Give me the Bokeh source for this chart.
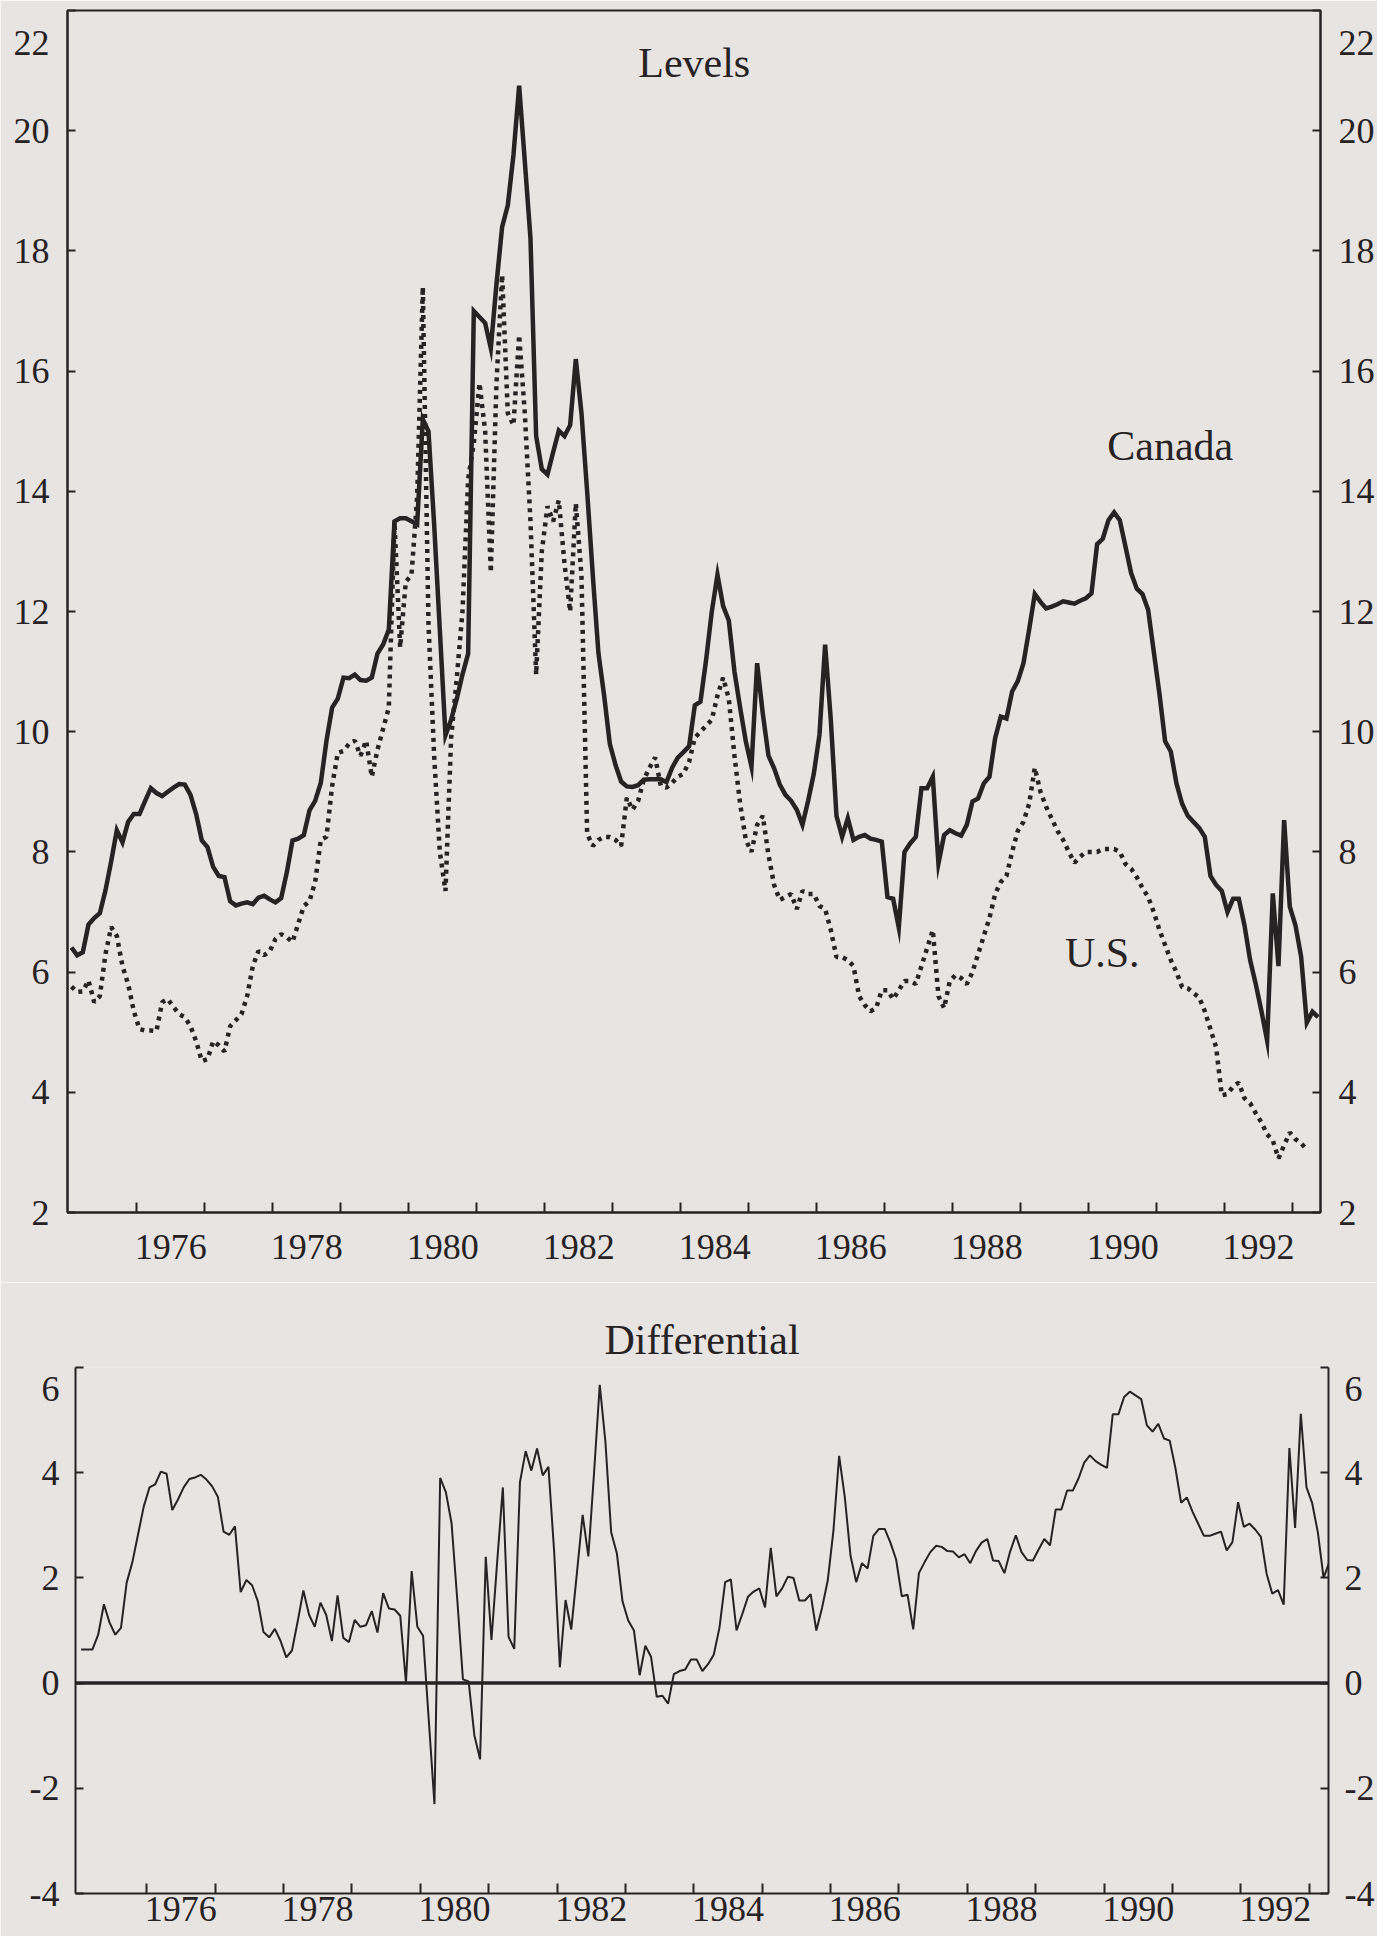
from bokeh.plotting import figure
from bokeh.layouts import column
from bokeh.models import FixedTicker, LinearAxis, Range1d, Label, Span, CustomJSTickFormatter
from bokeh.embed import file_html
from bokeh.resources import INLINE

# ---------------- data (monthly, Jan 1975 onward) ----------------
START_YEAR = 1975

canada = [
    6.41, 6.28, 6.33, 6.79, 6.90, 6.98, 7.36, 7.84, 8.36, 8.16, 8.50, 8.63,      # 1975
    8.63, 8.85, 9.06, 8.98, 8.93, 9.00, 9.07, 9.13, 9.12, 8.95, 8.63, 8.19,      # 1976
    8.08, 7.75, 7.60, 7.58, 7.18, 7.11, 7.14, 7.16, 7.13, 7.24, 7.27, 7.21,      # 1977
    7.16, 7.23, 7.66, 8.19, 8.22, 8.28, 8.69, 8.85, 9.15, 9.85, 10.40, 10.55,    # 1978
    10.90, 10.89, 10.95, 10.86, 10.85, 10.90, 11.30, 11.45, 11.70, 13.50, 13.55, 13.55,  # 1979
    13.50, 13.45, 15.20, 15.00, 13.45, 11.70, 9.94, 10.20, 10.55, 10.95, 11.30, 17.00,   # 1980
    16.90, 16.80, 16.38, 17.45, 18.40, 18.76, 19.60, 20.75, 19.49, 18.21, 14.92, 14.37,  # 1981
    14.28, 14.65, 15.01, 14.92, 15.10, 16.20, 15.30, 14.00, 12.60, 11.30, 10.60, 9.80,   # 1982
    9.45, 9.17, 9.09, 9.08, 9.11, 9.20, 9.21, 9.21, 9.21, 9.16, 9.40, 9.57,      # 1983
    9.66, 9.76, 10.44, 10.50, 11.20, 12.00, 12.61, 12.09, 11.85, 11.00, 10.40, 9.84,     # 1984
    9.42, 11.14, 10.30, 9.60, 9.39, 9.12, 8.95, 8.85, 8.70, 8.45, 8.85, 9.30,    # 1985
    9.95, 11.45, 10.20, 8.60, 8.25, 8.56, 8.20, 8.25, 8.28, 8.22, 8.20, 8.17,    # 1986
    7.25, 7.22, 6.74, 8.00, 8.14, 8.25, 9.06, 9.06, 9.25, 7.81, 8.28, 8.36,      # 1987
    8.31, 8.27, 8.45, 8.84, 8.89, 9.14, 9.25, 9.89, 10.25, 10.22, 10.67, 10.84,  # 1988
    11.14, 11.70, 12.29, 12.16, 12.05, 12.08, 12.12, 12.17, 12.15, 12.13, 12.18, 12.22,  # 1989
    12.30, 13.12, 13.21, 13.52, 13.65, 13.52, 13.08, 12.64, 12.38, 12.29, 12.03, 11.33,  # 1990
    10.63, 9.84, 9.67, 9.14, 8.80, 8.60, 8.50, 8.40, 8.25, 7.60, 7.45, 7.35,     # 1991
    7.00, 7.22, 7.22, 6.78, 6.20, 5.80, 5.35, 4.86, 7.31, 6.10, 8.53, 7.09,      # 1992
    6.78, 6.26, 5.16, 5.34, 5.25,                                                # 1993
]

us = [
    5.76, 5.67, 5.68, 5.86, 5.50, 5.60, 6.30, 6.75, 6.60, 6.10, 5.80, 5.35,      # 1975
    5.05, 5.03, 5.03, 5.02, 5.50, 5.55, 5.42, 5.30, 5.25, 5.10, 4.85, 4.52,      # 1976
    4.55, 4.85, 4.78, 4.68, 5.10, 5.20, 5.30, 5.60, 6.10, 6.35, 6.28, 6.35,      # 1977
    6.55, 6.63, 6.58, 6.50, 6.80, 7.10, 7.18, 7.50, 8.20, 8.25, 9.10, 9.65,      # 1978
    9.68, 9.80, 9.85, 9.60, 9.85, 9.25, 9.70, 10.05, 10.40, 13.50, 11.40, 12.50, # 1979
    12.60, 13.90, 17.40, 11.80, 9.60, 8.00, 7.35, 9.90, 10.90, 12.00, 14.20, 14.80,      # 1980
    15.80, 15.00, 12.65, 15.80, 17.60, 15.30, 15.10, 16.60, 15.30, 13.50, 10.95, 13.00,  # 1981
    13.75, 13.50, 13.85, 12.80, 12.00, 13.80, 12.60, 8.30, 8.10, 8.20, 8.25, 8.25,       # 1982
    8.20, 8.10, 8.90, 8.70, 8.85, 9.20, 9.40, 9.57, 9.10, 9.07, 9.15, 9.25,      # 1983
    9.30, 9.50, 9.90, 10.00, 10.10, 10.20, 10.60, 10.90, 10.55, 9.60, 8.80, 8.20,        # 1984
    8.00, 8.45, 8.60, 7.95, 7.45, 7.20, 7.25, 7.30, 7.05, 7.35, 7.30, 7.30,      # 1985
    7.10, 7.05, 6.70, 6.25, 6.25, 6.20, 6.10, 5.60, 5.45, 5.35, 5.40, 5.70,      # 1986
    5.70, 5.55, 5.70, 5.85, 5.85, 5.80, 6.10, 6.40, 6.70, 5.60, 5.40, 5.85,      # 1987
    5.95, 5.90, 5.80, 6.00, 6.30, 6.60, 6.90, 7.30, 7.50, 7.60, 8.00, 8.35,      # 1988
    8.50, 8.80, 9.40, 9.00, 8.75, 8.55, 8.35, 8.20, 8.00, 7.82, 7.92, 8.00,      # 1989
    8.00, 8.00, 8.05, 8.05, 8.05, 8.00, 7.80, 7.72, 7.58, 7.40, 7.25, 7.00,      # 1990
    6.70, 6.45, 6.20, 6.00, 5.75, 5.73, 5.65, 5.58, 5.35, 5.05, 4.75, 3.95,      # 1991
    3.97, 4.10, 4.16, 3.90, 3.82, 3.65, 3.50, 3.30, 3.20, 2.90, 3.12, 3.33,      # 1992
    3.22, 3.15, 3.05,                                                            # 1993
]

differential = [
    0.64, 0.64, 0.64, 0.92, 1.50, 1.15, 0.92, 1.05, 1.91, 2.30, 2.83, 3.36,      # 1975
    3.72, 3.78, 4.02, 3.98, 3.29, 3.49, 3.72, 3.88, 3.91, 3.96, 3.87, 3.74,      # 1976
    3.54, 2.88, 2.82, 2.98, 1.73, 1.96, 1.86, 1.56, 0.97, 0.87, 1.03, 0.80,      # 1977
    0.49, 0.62, 1.17, 1.76, 1.30, 1.07, 1.53, 1.30, 0.80, 1.67, 0.86, 0.78,      # 1978
    1.20, 1.07, 1.10, 1.37, 0.96, 1.71, 1.42, 1.40, 1.28, 0.01, 2.13, 1.07,      # 1979
    0.90, -0.70, -2.30, 3.90, 3.63, 3.04, 1.59, 0.07, 0.03, -0.99, -1.45, 2.40,  # 1980
    0.82, 2.30, 3.72, 0.88, 0.65, 3.82, 4.41, 4.04, 4.46, 3.95, 4.11, 2.50,      # 1981
    0.30, 1.58, 1.02, 2.10, 3.20, 2.41, 4.00, 5.67, 4.58, 2.87, 2.47, 1.55,      # 1982
    1.19, 1.00, 0.15, 0.71, 0.50, -0.26, -0.24, -0.39, 0.17, 0.23, 0.26, 0.45,   # 1983
    0.45, 0.23, 0.36, 0.54, 1.05, 1.92, 1.97, 1.00, 1.31, 1.64, 1.74, 1.80,      # 1984
    1.44, 2.57, 1.65, 1.80, 2.02, 2.00, 1.57, 1.57, 1.69, 1.00, 1.43, 1.95,      # 1985
    2.90, 4.32, 3.53, 2.42, 1.92, 2.28, 2.18, 2.80, 2.93, 2.93, 2.67, 2.35,      # 1986
    1.65, 1.68, 1.02, 2.09, 2.30, 2.49, 2.61, 2.59, 2.51, 2.50, 2.39, 2.45,      # 1987
    2.28, 2.51, 2.67, 2.74, 2.33, 2.32, 2.09, 2.50, 2.81, 2.49, 2.34, 2.33,      # 1988
    2.54, 2.74, 2.62, 3.30, 3.30, 3.66, 3.66, 3.89, 4.19, 4.33, 4.22, 4.15,      # 1989
    4.09, 5.11, 5.11, 5.44, 5.54, 5.47, 5.40, 4.90, 4.78, 4.93, 4.65, 4.61,      # 1990
    4.09, 3.43, 3.53, 3.26, 3.03, 2.80, 2.80, 2.84, 2.88, 2.52, 2.68, 3.44,      # 1991
    2.97, 3.03, 2.92, 2.78, 2.08, 1.70, 1.77, 1.49, 4.47, 2.95, 5.12, 3.72,      # 1992
    3.42, 2.86, 2.00, 2.30,                                                      # 1993
]

year_boundaries = list(range(1976, 1994))
labelled_years = list(range(1976, 1993, 2))
levels_ticks = [2, 4, 6, 8, 10, 12, 14, 16, 18, 20, 22]
diff_ticks = [-4, -2, 0, 2, 4, 6]


def months(n):
    return [START_YEAR + (k + 0.5) / 12 for k in range(n)]


# ---------------- styling ----------------
FONT = "Liberation Serif"
INK = "#272223"
PAPER = "#e8e4e2"
TICK_FS = "36px"
TEXT_FS = "42px"


def make_x_axis(standoff):
    ax = LinearAxis(
        ticker=FixedTicker(ticks=[y + 0.5 for y in labelled_years], minor_ticks=year_boundaries),
        formatter=CustomJSTickFormatter(code="return String(Math.floor(tick));"),
    )
    ax.major_tick_in = 0
    ax.major_tick_out = 0
    ax.minor_tick_in = 10
    ax.minor_tick_out = 0
    ax.minor_tick_line_color = INK
    ax.minor_tick_line_width = 2
    ax.axis_line_color = INK
    ax.axis_line_width = 2
    ax.major_label_text_font = FONT
    ax.major_label_text_font_size = TICK_FS
    ax.major_label_text_color = INK
    ax.major_label_text_line_height = 1.0
    ax.major_label_standoff = standoff
    return ax


def make_y_axis(ticks, standoff, top_drop):
    top = max(ticks)
    # the label of the top tick sits a little below its tick, as in the original
    code = "return (tick == %d) ? '\\n' + String(tick) : String(tick);" % top
    ax = LinearAxis(ticker=FixedTicker(ticks=ticks), formatter=CustomJSTickFormatter(code=code))
    ax.major_tick_in = 8
    ax.major_tick_out = 0
    ax.major_tick_line_color = INK
    ax.major_tick_line_width = 2
    ax.minor_tick_line_color = None
    ax.axis_line_color = INK
    ax.axis_line_width = 2
    ax.major_label_text_font = FONT
    ax.major_label_text_font_size = TICK_FS
    ax.major_label_text_color = INK
    ax.major_label_text_line_height = top_drop
    ax.major_label_standoff = standoff
    return ax


# ---------------- top panel: levels ----------------
X1 = (1974.983, 1993.41)
p1 = figure(width=1377, height=1282, x_range=Range1d(*X1), y_range=Range1d(2, 22),
            x_axis_type=None, y_axis_type=None, output_backend="svg", toolbar_location=None,
            min_border_left=67, min_border_right=56, min_border_top=10, min_border_bottom=70,
            background_fill_color=PAPER, border_fill_color=PAPER,
            outline_line_color=INK, outline_line_width=2, frame_align=False)
p1.add_layout(make_x_axis(22), "below")
p1.add_layout(make_y_axis(levels_ticks, 18, 0.56), "left")
p1.add_layout(make_y_axis(levels_ticks, 18, 0.56), "right")

p1.line(months(len(canada)), canada, line_color=INK, line_width=4.5, line_join="miter")
p1.line(months(len(us)), us, line_color=INK, line_width=4.5, line_dash="4 5")

for txt, x, y in [("Levels", 1984.2, 21.12), ("Canada", 1991.2, 14.76), ("U.S.", 1990.2, 6.32)]:
    p1.add_layout(Label(x=x, y=y, text=txt, text_align="center", text_baseline="alphabetic",
                        text_font=FONT, text_font_size=TEXT_FS, text_color=INK))

# ---------------- bottom panel: differential ----------------
X2 = (1974.96, 1993.28)
p2 = figure(width=1377, height=654, x_range=Range1d(*X2), y_range=Range1d(-4, 6),
            x_axis_type=None, y_axis_type=None, output_backend="svg", toolbar_location=None,
            title="Differential",
            min_border_left=75, min_border_right=48, min_border_top=85, min_border_bottom=43,
            background_fill_color=PAPER, border_fill_color=PAPER, outline_line_color=None,
            frame_align=False)
p2.title.align = "center"
p2.title.text_font = FONT
p2.title.text_font_size = TEXT_FS
p2.title.text_font_style = "normal"
p2.title.text_color = INK
p2.add_layout(make_x_axis(3), "below")
p2.add_layout(make_y_axis(diff_ticks, 16, 1.05), "left")
p2.add_layout(make_y_axis(diff_ticks, 16, 1.05), "right")
p2.add_layout(Span(location=0, dimension="width", line_color=INK, line_width=3.5))
p2.line(months(len(differential)), differential, line_color=INK, line_width=2)

layout = column(p1, p2)
open("out.html", "w").write(file_html(layout, INLINE))
